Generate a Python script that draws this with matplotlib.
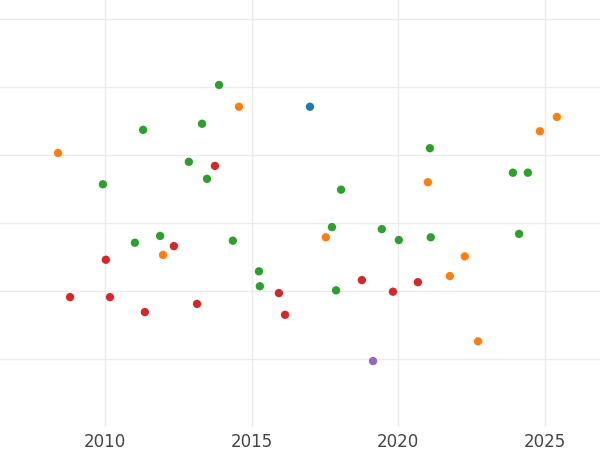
import matplotlib
matplotlib.use("Agg")
import matplotlib.pyplot as plt

# values (y has no labels; arbitrary units)
orange_x = [2008.40, 2014.57, 2011.98, 2017.53, 2021.01, 2022.27, 2021.76, 2022.72, 2024.83, 2025.41]
orange_y = [4.03, 4.71, 2.53, 2.79, 3.60, 2.51, 2.22, 1.26, 4.35, 4.56]
green_x = [2013.89, 2011.30, 2013.31, 2009.93, 2012.86, 2013.48, 2011.02, 2011.88, 2014.36, 2015.25,
           2015.28, 2018.05, 2017.74, 2017.88, 2019.44, 2020.02, 2021.08, 2021.11, 2023.91, 2024.42, 2024.12]
green_y = [5.03, 4.37, 4.46, 3.57, 3.90, 3.65, 2.71, 2.81, 2.74, 2.29,
           2.07, 3.49, 2.94, 2.01, 2.91, 2.75, 4.10, 2.79, 3.74, 3.74, 2.84]
blue_x = [2016.99]
blue_y = [4.71]
red_x = [2013.75, 2012.35, 2010.03, 2008.81, 2010.17, 2011.36, 2013.14, 2015.93, 2016.14, 2018.76, 2019.82, 2020.67]
red_y = [3.84, 2.66, 2.46, 1.91, 1.91, 1.69, 1.81, 1.97, 1.65, 2.16, 1.99, 2.13]
purple_x = [2019.14]
purple_y = [0.97]

series = [(blue_x, blue_y, "#1f77b4"), (orange_x, orange_y, "#ff7f0e"),
          (green_x, green_y, "#2ca02c"), (red_x, red_y, "#d62728"),
          (purple_x, purple_y, "#9467bd")]

fig = plt.figure(figsize=(6, 4.5), dpi=100)
ax = fig.add_axes([0, 23 / 450, 1, 427 / 450])
for xs, ys, c in series:
    ax.scatter(xs, ys, s=36, color=c, edgecolors="none", zorder=3)

ax.set_xlim(2006.42, 2026.88)
ax.set_ylim(0, 6.28)
ax.set_xticks([2010, 2015, 2020, 2025])
ax.set_yticks([1, 2, 3, 4, 5, 6])
ax.set_yticklabels([])
ax.grid(True, color="#ebebeb", lw=1)
ax.tick_params(length=0, labelsize=12, labelcolor="#444444", pad=4)
for s in ax.spines.values():
    s.set_visible(False)
fig.savefig("out.png", dpi=100)
